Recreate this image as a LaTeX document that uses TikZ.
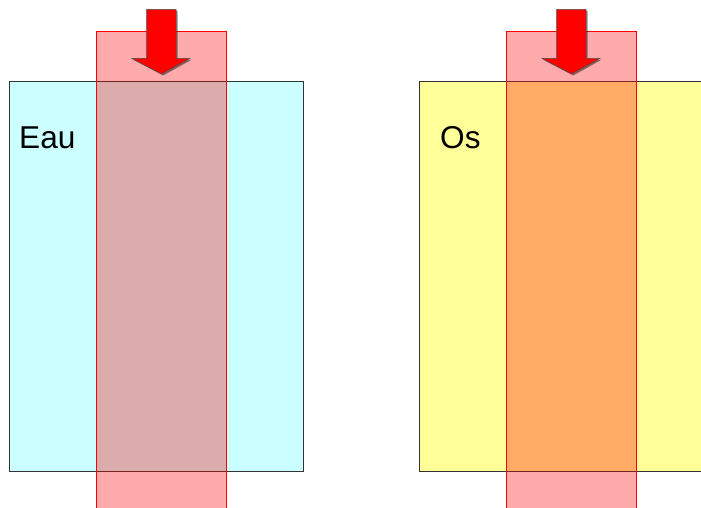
\documentclass[tikz,border=0pt]{standalone}
\usepackage{fontspec}
\newfontfamily\labfont{Liberation Sans}
\definecolor{eaucol}{HTML}{CCFFFF}
\definecolor{oscol}{HTML}{FFFF99}
\definecolor{edgecol}{HTML}{333333}

\begin{document}
\begin{tikzpicture}[x=1pt,y=-1pt,
    tissue/.style={draw=edgecol,line width=0.9pt},
    band/.style={draw=red,line width=0.9pt,fill=red,fill opacity=0.33},
    pusharrow/.style={fill=red,draw=black!70,line width=0.5pt},
    lab/.style={inner sep=0pt,anchor=base west,font=\labfont\fontsize{31.6}{36}\selectfont}]
  \useasboundingbox (0,0) rectangle (701,508);
  \clip (0,0) rectangle (701,508);
  % the two tissues
  \fill[eaucol] (9,81) rectangle (303,471);
  \draw[tissue] (9,81) rectangle (303,471);
  \fill[oscol] (419,81) rectangle (720,471);
  \draw[tissue] (720,81) -- (419,81) -- (419,471) -- (720,471);
  \node[lab] (eau) at (19,148) {Eau};
  \node[lab] (os) at (440,148) {Os};
  % beams and arrows
  \foreach \dx in {0,410}{
    \draw[band] (96.3+\dx,31.7) rectangle (226.3+\dx,520);
    \fill[black,opacity=0.45] (148.2+\dx,10.8) -- (177.5+\dx,10.8) -- (177.5+\dx,59.8)
      -- (191.5+\dx,59.8) -- (163.2+\dx,75.5) -- (133.2+\dx,59.8) -- (148.2+\dx,59.8) -- cycle;
    \draw[pusharrow] (146.7+\dx,9.3) -- (176+\dx,9.3) -- (176+\dx,58.3)
      -- (190+\dx,58.3) -- (161.5+\dx,74) -- (131.7+\dx,58.3) -- (146.7+\dx,58.3) -- cycle;
  }
\end{tikzpicture}
\end{document}
